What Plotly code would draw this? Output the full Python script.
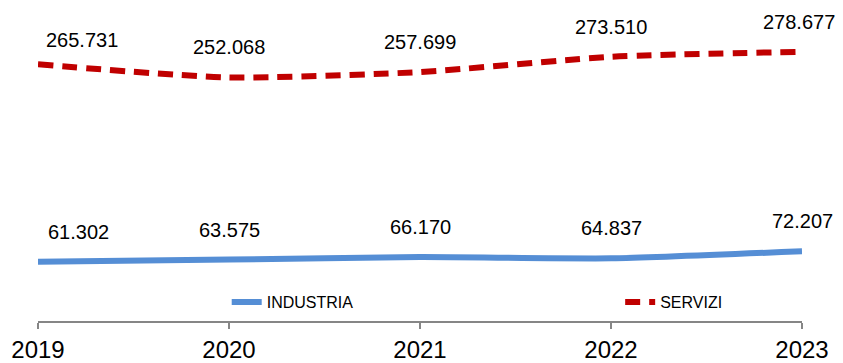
import plotly.graph_objects as go

years = [2019, 2020, 2021, 2022, 2023]
industria = [61.302, 63.575, 66.170, 64.837, 72.207]
servizi = [265.731, 252.068, 257.699, 273.510, 278.677]
industria_labels = ["61.302", "63.575", "66.170", "64.837", "72.207"]
servizi_labels = ["265.731", "252.068", "257.699", "273.510", "278.677"]
tick_labels = ["2019", "2020", "2021", "2022", "2023"]

BLUE = "#558ED5"
RED = "#C00000"
FONT = "Liberation Sans, Arial, sans-serif"

fig = go.Figure()
fig.add_trace(go.Scatter(
    x=years, y=industria, name="INDUSTRIA", mode="lines",
    line=dict(color=BLUE, width=6, shape="spline", smoothing=0.6),
    cliponaxis=False, legend="legend",
))
fig.add_trace(go.Scatter(
    x=years, y=servizi, name="SERVIZI", mode="lines",
    line=dict(color=RED, width=6, dash="15px,9px", shape="spline", smoothing=0.6),
    cliponaxis=False, legend="legend2",
))

annotations = []
n = len(years)
for i, (yr, v, t) in enumerate(zip(years, industria, industria_labels)):
    a = dict(x=yr, y=v, text=t, showarrow=False, yshift=30, yanchor="middle",
             font=dict(size=20, color="black", family=FONT))
    if i == 0:
        a.update(xanchor="left", xshift=8)
    annotations.append(a)
for i, (yr, v, t) in enumerate(zip(years, servizi, servizi_labels)):
    a = dict(x=yr, y=v, text=t, showarrow=False, yshift=30, yanchor="middle",
             font=dict(size=20, color="black", family=FONT))
    if i == 0:
        a.update(xanchor="left", xshift=6, yshift=24)
    if i == n - 1:
        a.update(xshift=-3)
    annotations.append(a)

legend_common = dict(
    orientation="h", yanchor="middle", xanchor="left",
    font=dict(size=16, family=FONT, color="black"),
    bgcolor="rgba(0,0,0,0)",
)

fig.update_layout(
    width=835, height=355,
    margin=dict(l=30, r=41, t=0, b=38),
    paper_bgcolor="white", plot_bgcolor="white",
    font=dict(family=FONT, color="black"),
    annotations=annotations,
    showlegend=True,
    legend=dict(legend_common, x=0.247, y=0.06),
    legend2=dict(legend_common, x=0.762, y=0.06),
    xaxis=dict(
        range=[2019, 2023], tickvals=years, ticktext=tick_labels,
        showgrid=False, zeroline=False,
        showline=True, linecolor="#868686", linewidth=1.5,
        ticks="outside", ticklen=6, tickcolor="#868686", tickwidth=1.5,
        tickfont=dict(size=24, family=FONT, color="black"),
    ),
    yaxis=dict(
        range=[0, 324], visible=False, showgrid=False, zeroline=False,
    ),
)

fig.write_html("out.html")
